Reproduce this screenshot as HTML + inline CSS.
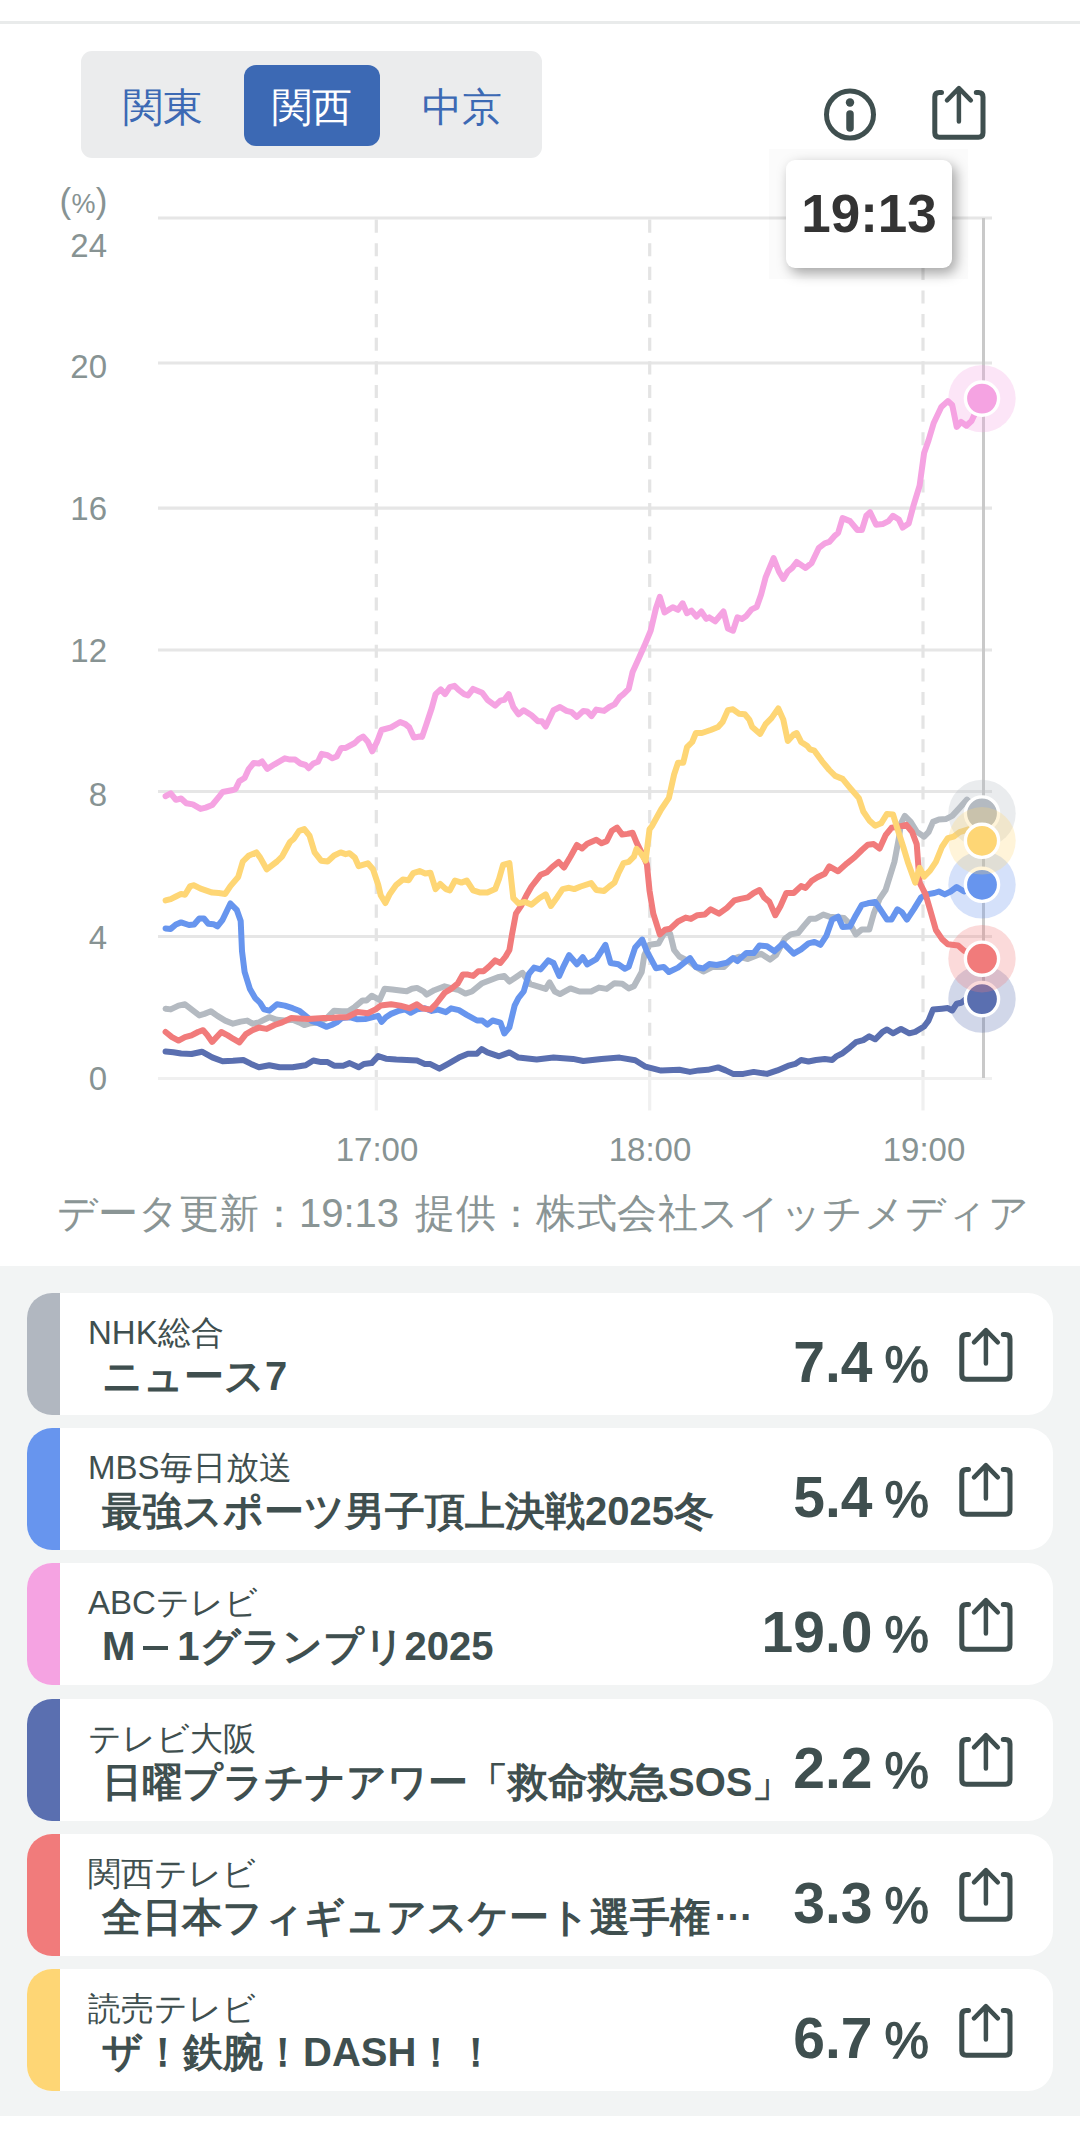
<!DOCTYPE html>
<html lang="ja"><head><meta charset="utf-8"><title>chart</title>
<style>
*{margin:0;padding:0;box-sizing:border-box}
html,body{width:1080px;height:2136px;background:#fff;overflow:hidden}
body{position:relative;font-family:"Liberation Sans",sans-serif;color:#3f4f4f}
.topline{position:absolute;left:0;top:21px;width:1080px;height:3px;background:#e9ebeb}
.seg{position:absolute;left:81px;top:51px;width:461px;height:107px;border-radius:11px;background:#ebeced}
.seg div{position:absolute;top:14px;height:81px;line-height:85px;font-size:40px;color:#3c69b4;text-align:center;width:136px}
.seg .on{background:#3c69b4;color:#fff;border-radius:12px}
.chart{position:absolute;left:0;top:0}
.ax{font-family:"Liberation Sans",sans-serif;font-size:33px;fill:#879393}
.tipbg{position:absolute;left:769px;top:149px;width:199px;height:130px;background:rgba(0,0,0,0.014)}
.tip{position:absolute;left:786px;top:160px;width:166px;height:108px;background:#fff;border-radius:9px;box-shadow:4px 5px 13px rgba(0,0,0,0.36);font-weight:bold;font-size:53px;color:#333;text-align:center;line-height:108px}
.info{position:absolute;left:821px;top:85px}
.shtop{position:absolute;left:931px;top:85px;width:56px;height:56px}
.foot{position:absolute;left:57px;top:1186px;font-size:40px;color:#8a9595;white-space:nowrap;letter-spacing:0px}
.list{position:absolute;left:0;top:1266px;width:1080px;height:850px;background:#f2f4f4}
.card{position:absolute;left:27px;width:1026px;height:122px;background:#fff;border-radius:25px;overflow:hidden}
.bar{position:absolute;left:0;top:0;width:33px;height:122px}
.ch{position:absolute;left:61px;top:20px;font-size:33px;line-height:40px;color:#3f4f4f;white-space:nowrap}
.ti{position:absolute;left:75px;top:59px;font-size:40px;line-height:48px;font-weight:bold;color:#3f4f4f;white-space:nowrap}
.val{position:absolute;right:124px;top:34px;font-size:57px;line-height:70px;color:#3f4f4f;white-space:nowrap}
.val b{font-weight:bold}
.val .pc{font-size:50px;margin-left:12px;-webkit-text-stroke:1.3px #3f4f4f}
.dash{display:inline-block;width:25px;height:4.5px;background:#3f4f4f;vertical-align:10px;margin:0 9px 0 8px}
.sh{position:absolute;left:930.7px;top:33.7px;width:56px;height:56px}
</style></head><body>
<div class="topline"></div>
<div class="seg"><div style="left:13.5px">関東</div><div class="on" style="left:163px">関西</div><div style="left:313px">中京</div></div>
<div class="info"><svg width="58" height="60" viewBox="0 0 58 60"><circle cx="29" cy="29.5" r="23.5" fill="none" stroke="#3f4f4f" stroke-width="5"/><circle cx="29" cy="17.5" r="4.2" fill="#3f4f4f"/><line x1="29" y1="29" x2="29" y2="43" stroke="#3f4f4f" stroke-width="7.5" stroke-linecap="round"/></svg></div>
<div class="shtop"><svg width="56" height="56" viewBox="0 0 56 56"><path d="M10.5 7.5H8.3Q3.8 7.5 3.8 12V47.8Q3.8 52.3 8.3 52.3H47.5Q52 52.3 52 47.8V12Q52 7.5 47.5 7.5H45.3" fill="none" stroke="#3f4f4f" stroke-width="5" stroke-linecap="round" stroke-linejoin="round"/><path d="M27.9 36.5V3.2M16 15.3L27.9 3.2L39.8 15.3" fill="none" stroke="#3f4f4f" stroke-width="4.5" stroke-linecap="round" stroke-linejoin="round"/></svg></div>
<svg class="chart" width="1080" height="1266" viewBox="0 0 1080 1266">
<line x1="158" y1="218" x2="992" y2="218" stroke="#e6e6e6" stroke-width="3.2"/>
<line x1="158" y1="363" x2="992" y2="363" stroke="#e6e6e6" stroke-width="3.2"/>
<line x1="158" y1="508.2" x2="992" y2="508.2" stroke="#e6e6e6" stroke-width="3.2"/>
<line x1="158" y1="650" x2="992" y2="650" stroke="#e6e6e6" stroke-width="3.2"/>
<line x1="158" y1="791.5" x2="992" y2="791.5" stroke="#e6e6e6" stroke-width="3.2"/>
<line x1="158" y1="936.5" x2="992" y2="936.5" stroke="#e6e6e6" stroke-width="3.2"/>
<line x1="158" y1="1078.5" x2="992" y2="1078.5" stroke="#f0f0f0" stroke-width="3.2"/>
<line x1="376.3" y1="219.6" x2="376.3" y2="1077" stroke="#e4e4e4" stroke-width="3.2" stroke-dasharray="13.1 10.52"/>
<line x1="376.3" y1="1078" x2="376.3" y2="1110.5" stroke="#f0f0f0" stroke-width="3.2"/>
<line x1="649.7" y1="219.6" x2="649.7" y2="1077" stroke="#e4e4e4" stroke-width="3.2" stroke-dasharray="13.1 10.52"/>
<line x1="649.7" y1="1078" x2="649.7" y2="1110.5" stroke="#f0f0f0" stroke-width="3.2"/>
<line x1="923" y1="219.6" x2="923" y2="1077" stroke="#e4e4e4" stroke-width="3.2" stroke-dasharray="13.1 10.52"/>
<line x1="923" y1="1078" x2="923" y2="1110.5" stroke="#f0f0f0" stroke-width="3.2"/>
<line x1="983.5" y1="218" x2="983.5" y2="1078" stroke="#c9c9c9" stroke-width="3"/>
<text x="107.5" y="213" text-anchor="end" class="ax"><tspan style="font-size:35px">(</tspan><tspan style="font-size:27px" dx="0.3">%</tspan><tspan style="font-size:35px" dx="0.3">)</tspan></text>
<text x="107" y="257" text-anchor="end" class="ax">24</text>
<text x="107" y="378" text-anchor="end" class="ax">20</text>
<text x="107" y="520" text-anchor="end" class="ax">16</text>
<text x="107" y="662" text-anchor="end" class="ax">12</text>
<text x="107" y="806" text-anchor="end" class="ax">8</text>
<text x="107" y="948.5" text-anchor="end" class="ax">4</text>
<text x="107" y="1090" text-anchor="end" class="ax">0</text>
<text x="377" y="1161" text-anchor="middle" class="ax">17:00</text>
<text x="650" y="1161" text-anchor="middle" class="ax">18:00</text>
<text x="924" y="1161" text-anchor="middle" class="ax">19:00</text>
<path d="M165.6 1008.7L170.7 1009.4L178.5 1005.6L185.0 1004.3L191.5 1009.4L199.3 1015.4L204.4 1013.9L210.9 1011.3L217.4 1015.9L225.2 1020.6L233.0 1023.7L240.7 1021.6L247.2 1020.6L252.4 1023.7L258.9 1022.4L264.1 1019.8L269.3 1017.2L277.0 1019.8L284.8 1020.6L292.6 1019.8L299.1 1022.4L304.3 1025.0L310.7 1023.2L318.5 1022.4L326.3 1018.5L334.1 1010.7L341.9 1011.3L348.3 1011.3L354.8 1006.9L362.6 1000.4L366.5 1000.4L371.7 995.7L379.5 999.9L384.6 988.7L392.4 989.5L400.2 990.5L406.7 991.3L411.9 988.7L417.0 987.9L423.5 991.3L426.5 994.6L434.3 990.2L444.6 986.3L453.7 988.9L458.9 990.2L465.4 993.6L471.9 991.5L482.2 983.2L497.8 977.2L504.3 975.9L509.4 981.6L515.9 977.2L522.4 972.8L530.2 984.2L539.3 986.8L545.7 988.9L549.6 982.4L554.8 991.5L560.0 994.1L570.4 988.4L579.4 991.5L591.1 991.5L598.9 987.6L606.7 988.9L614.5 983.2L622.2 983.7L628.7 988.4L633.9 986.3L641.7 972.0L644.3 955.2L649.5 944.8L658.5 943.5L665.0 931.9L670.2 933.9L674.1 950.0L679.3 956.5L689.6 961.7L695.9 967.0L703.3 971.5L712.2 967.0L724.1 967.0L731.5 959.6L738.9 956.7L747.8 959.0L761.1 953.7L770.0 959.6L775.9 955.2L784.8 938.9L790.7 934.4L798.1 933.0L804.1 925.6L810.0 918.7L815.9 918.7L823.3 914.6L829.3 916.7L838.1 917.6L844.1 918.1L850.0 924.1L855.9 934.4L861.9 929.4L869.3 929.4L873.7 913.7L879.6 898.9L885.6 890.0L894.4 861.9L898.9 838.1L901.0 823.3L904.8 815.9L910.7 821.9L916.7 831.6L924.1 836.7L928.5 832.2L933.0 821.9L938.9 819.5L946.3 818.9L952.2 815.9L959.6 807.9L967.0 799.6L982.0 813.5" fill="none" stroke="#b4bac1" stroke-width="6" stroke-linejoin="round" stroke-linecap="round"/>
<path d="M165.6 928.4L170.7 928.9L175.9 924.5L181.1 922.4L188.9 925.0L194.1 924.5L199.3 918.5L203.9 918.5L208.3 923.7L213.5 924.2L217.4 926.3L222.6 919.8L230.4 903.5L236.9 910.2L240.7 921.1L242.0 951.1L244.6 971.9L249.8 988.7L255.0 997.8L260.2 1003.0L264.1 1009.4L269.3 1010.7L277.0 1004.3L284.8 1005.6L292.6 1008.2L299.1 1010.7L305.6 1015.9L312.0 1021.1L318.5 1023.2L326.3 1026.8L331.5 1025.0L336.7 1022.4L341.9 1018.0L349.6 1017.2L357.4 1019.3L365.2 1019.0L373.0 1017.2L378.2 1015.9L381.5 1021.9L385.9 1017.2L391.1 1013.9L398.9 1010.7L405.4 1009.4L410.6 1012.8L417.0 1009.4L424.8 1008.2L431.7 1010.9L438.1 1009.6L445.9 1012.2L451.1 1008.3L458.9 1010.2L466.7 1014.8L477.0 1020.5L482.2 1020.5L487.4 1024.7L492.6 1020.5L500.4 1022.6L504.3 1033.5L509.4 1027.3L514.6 1005.7L518.5 998.0L523.7 991.5L528.9 973.9L534.1 967.6L540.6 969.4L548.3 960.4L553.5 963.0L559.2 975.9L563.9 965.6L569.1 955.2L576.9 964.3L582.8 957.3L587.2 964.3L596.3 959.1L605.4 944.8L610.6 963.0L618.3 964.3L624.8 968.7L628.7 966.9L635.2 947.4L642.2 939.6L646.9 951.3L655.9 968.2L663.7 966.9L668.9 972.0L678.0 967.6L690.0 958.1L695.9 967.0L703.3 968.5L709.3 964.1L716.7 965.0L727.0 962.6L733.0 958.1L737.4 961.1L746.3 953.1L753.7 953.1L759.6 945.4L767.0 946.3L774.4 951.3L783.3 943.3L793.7 953.7L801.1 949.3L808.5 943.3L814.4 941.9L820.4 944.8L826.3 935.9L832.2 919.6L838.1 916.7L842.6 927.0L850.0 926.4L855.9 915.2L861.9 904.8L867.8 903.3L875.2 901.9L881.1 910.7L887.0 919.6L891.5 919.6L897.4 909.3L901.9 912.2L906.9 919.6L913.7 909.3L921.1 897.4L927.0 894.4L934.4 893.0L938.9 891.5L944.8 894.4L950.7 891.5L956.7 887.0L964.1 891.5L982.0 884.8" fill="none" stroke="#6795ee" stroke-width="6" stroke-linejoin="round" stroke-linecap="round"/>
<path d="M165.6 796.2L170.7 793.3L175.9 799.8L181.1 798.5L186.3 803.2L192.8 804.4L200.6 808.9L205.7 807.6L212.2 805.0L218.7 797.2L222.6 792.0L233.0 790.0L235.6 788.9L239.4 781.1L244.6 778.0L248.5 769.4L253.7 763.0L258.9 763.5L262.0 761.4L267.2 768.9L274.5 764.3L284.8 758.3L290.0 759.6L295.2 759.6L300.4 763.5L305.6 765.0L308.7 768.2L313.3 763.5L318.0 761.7L321.6 753.9L327.6 755.2L332.3 758.3L336.7 756.5L341.3 747.9L345.7 747.9L354.8 743.0L358.7 739.1L363.1 736.5L367.8 741.7L372.2 751.3L376.9 742.2L381.5 730.0L391.1 727.4L400.2 722.0L405.4 724.1L409.3 727.4L413.9 737.6L419.6 736.5L422.1 736.9L426.5 723.9L431.7 708.3L435.6 694.1L440.7 689.4L445.1 694.1L449.8 687.1L454.5 685.8L458.9 690.2L464.1 694.1L468.0 695.4L473.1 688.9L482.2 692.8L487.4 699.8L495.2 705.7L500.4 700.6L504.3 699.8L508.7 694.1L513.3 707.0L518.5 714.3L523.7 710.2L531.5 715.3L538.0 721.3L541.9 721.3L545.7 726.5L553.5 710.2L560.0 707.0L566.5 710.9L571.7 712.2L576.9 716.9L583.3 710.9L587.2 711.4L591.6 716.1L596.3 709.6L604.1 710.9L609.3 707.0L614.5 704.4L619.6 697.2L623.5 694.1L628.7 688.9L632.6 672.0L637.8 660.4L644.3 646.1L650.7 630.6L655.9 608.5L659.8 596.9L664.5 612.4L672.8 607.2L678.0 609.8L682.6 603.3L687.0 613.2L691.5 610.6L696.5 616.5L701.3 611.5L706.3 618.9L709.3 617.4L715.2 621.3L723.5 611.5L727.9 628.4L733.0 630.7L737.4 617.4L741.9 618.9L746.3 615.9L751.6 609.4L756.7 607.0L761.1 594.6L765.6 577.4L773.6 558.1L778.9 571.5L783.3 578.9L787.8 571.5L792.2 567.9L796.7 562.0L805.6 567.9L811.5 563.2L818.9 547.8L824.8 543.3L829.3 541.9L835.2 535.3L838.1 533.0L842.6 518.1L850.0 521.1L857.4 530.0L861.9 530.0L866.3 515.8L870.1 512.2L876.1 524.7L882.6 524.1L888.5 521.1L893.0 515.8L898.9 519.6L902.7 527.6L908.7 523.5L913.7 504.8L919.6 485.6L924.1 453.0L928.5 440.5L933.6 423.3L941.3 407.0L947.8 401.1L952.2 405.0L956.7 426.9L961.1 421.9L966.4 425.7L971.5 421.0L975.9 411.5L982.0 398.6" fill="none" stroke="#f5a3e2" stroke-width="6" stroke-linejoin="round" stroke-linecap="round"/>
<path d="M165.6 1051.4L173.3 1052.2L181.1 1053.5L191.5 1054.0L201.9 1051.7L212.2 1057.4L222.6 1061.3L233.0 1060.8L243.3 1060.0L251.1 1063.9L258.9 1067.3L269.3 1065.2L279.6 1067.3L292.6 1067.3L305.6 1065.2L313.3 1060.5L321.1 1062.1L327.6 1062.1L334.1 1065.7L343.2 1065.7L349.6 1063.1L358.7 1067.3L363.9 1063.9L371.7 1063.1L378.2 1056.1L385.9 1058.7L396.3 1059.5L406.7 1060.0L417.0 1060.5L424.8 1063.9L430.4 1064.1L439.4 1068.7L448.5 1063.6L458.9 1057.6L468.0 1053.7L477.0 1053.7L481.7 1049.0L487.4 1052.4L499.1 1056.3L509.4 1052.4L518.5 1057.6L536.7 1059.4L553.5 1057.6L573.0 1058.9L583.3 1061.0L601.5 1058.9L619.6 1057.6L635.2 1060.2L645.6 1066.7L661.1 1070.6L679.3 1069.8L690.0 1071.9L698.9 1070.4L707.8 1069.8L718.1 1067.4L725.6 1070.4L733.0 1073.9L743.3 1073.9L753.7 1071.9L767.0 1073.9L777.4 1070.4L787.8 1065.9L795.2 1063.9L801.1 1060.0L808.5 1061.5L815.9 1060.0L824.8 1059.1L832.2 1060.0L836.7 1056.1L842.6 1053.2L850.0 1047.3L855.9 1042.2L863.3 1040.1L869.3 1036.3L875.2 1039.3L882.6 1031.9L887.0 1029.5L893.0 1033.3L901.0 1028.9L909.3 1033.3L915.2 1031.9L924.1 1026.5L928.5 1020.6L933.0 1009.6L941.9 1008.7L947.8 1008.1L952.2 1010.5L956.7 1003.7L961.1 1002.8L965.6 999.3L982.0 999.1" fill="none" stroke="#5a6fb0" stroke-width="6" stroke-linejoin="round" stroke-linecap="round"/>
<path d="M165.6 1032.0L172.0 1037.2L178.5 1040.6L185.0 1037.2L191.5 1035.4L198.0 1032.0L203.1 1030.2L207.6 1035.4L212.2 1041.9L221.3 1032.0L227.8 1035.4L233.0 1038.7L239.4 1042.4L245.9 1034.1L252.4 1030.2L258.9 1027.6L266.7 1028.9L274.5 1025.0L282.2 1022.4L291.3 1018.0L299.1 1018.5L308.2 1019.0L315.9 1018.5L323.7 1018.0L331.5 1018.0L339.3 1017.2L347.0 1017.2L357.4 1012.0L367.8 1013.3L375.6 1009.4L380.7 1005.6L391.1 1004.3L400.2 1005.6L409.3 1008.2L417.0 1004.3L422.2 1008.2L430.4 1009.6L435.6 1004.5L444.6 992.8L451.1 988.9L457.6 983.7L462.8 974.6L468.0 974.6L473.1 975.9L478.3 971.3L483.5 971.3L488.7 966.9L495.2 960.4L500.4 963.0L505.6 956.5L509.4 950.0L512.0 934.4L515.9 913.7L521.1 905.9L526.3 895.6L531.5 886.5L540.6 874.8L547.0 872.2L552.2 867.0L558.7 861.9L563.9 867.6L570.4 856.7L576.9 845.0L582.0 848.4L587.2 843.7L596.3 839.8L601.5 843.2L606.7 841.1L611.9 830.7L617.0 827.6L622.2 834.6L627.4 833.9L632.6 832.8L636.5 842.4L643.0 855.4L646.9 864.4L649.5 890.4L653.3 913.7L659.8 934.4L665.0 929.8L670.2 928.7L678.0 921.5L685.7 917.6L690.9 918.9L697.4 915.2L704.8 914.6L710.7 909.3L719.0 913.7L727.0 907.8L734.4 900.4L740.4 898.9L747.8 897.4L753.7 893.0L759.6 890.0L764.1 897.4L769.4 901.9L775.3 915.2L780.4 906.3L786.3 893.0L793.7 893.0L801.1 886.1L805.6 887.9L811.5 881.1L817.4 877.3L824.8 873.7L829.3 866.3L838.1 871.3L847.0 863.3L854.4 857.4L861.9 850.0L867.8 844.7L873.7 844.1L879.6 848.5L885.6 835.2L891.5 827.8L897.4 826.9L906.3 824.8L912.2 832.2L916.7 844.1L919.6 882.6L925.6 894.4L930.0 909.3L935.9 930.0L941.9 938.9L947.8 944.2L958.1 945.4L964.1 950.7L982.0 958.7" fill="none" stroke="#f17b7b" stroke-width="6" stroke-linejoin="round" stroke-linecap="round"/>
<path d="M165.6 900.4L170.7 899.1L175.9 896.5L181.1 893.9L185.0 894.7L190.2 886.1L194.1 885.3L200.6 888.7L212.2 892.6L218.7 893.1L225.2 893.9L230.4 886.1L238.2 877.0L242.8 861.5L248.5 855.8L256.3 852.4L260.2 857.6L266.7 869.3L277.0 861.5L282.2 856.3L290.0 842.0L293.9 838.7L299.1 830.9L304.3 829.1L309.5 835.6L314.6 852.4L321.1 860.7L327.6 861.5L334.1 855.5L340.6 852.4L345.7 854.2L349.6 853.2L354.8 857.6L358.7 866.2L367.8 863.3L373.0 869.3L378.2 884.8L380.7 895.2L385.4 903.0L389.8 893.9L396.3 884.8L402.8 879.6L408.7 880.2L413.2 873.2L419.6 871.1L425.2 873.5L430.4 872.7L435.6 889.1L440.2 883.9L445.9 889.1L449.8 890.4L455.0 880.5L461.5 882.6L466.7 880.5L473.1 890.4L479.6 892.4L487.4 892.4L495.2 889.1L499.1 878.7L503.0 865.0L509.4 863.1L513.3 898.2L518.5 903.3L525.0 902.0L531.5 904.6L539.3 898.2L545.7 894.3L550.9 905.9L557.4 896.9L562.6 889.1L569.1 887.8L574.3 889.1L580.7 886.5L591.1 883.1L596.3 889.9L604.1 890.9L609.3 886.5L614.5 882.6L618.3 873.5L623.5 863.1L628.7 861.9L633.9 856.7L636.5 848.9L640.4 852.8L645.6 860.6L649.5 829.4L652.0 826.0L661.1 809.5L668.9 797.8L674.1 774.5L678.0 762.8L683.2 762.8L687.0 747.2L692.2 742.0L695.9 733.0L701.9 733.0L710.7 730.0L718.1 727.0L722.6 722.0L727.9 710.1L733.0 709.3L738.9 713.7L744.8 714.3L749.3 719.6L752.2 727.0L760.2 733.9L765.6 724.1L771.5 718.1L778.3 708.4L783.3 719.6L787.8 741.0L793.7 734.4L796.7 733.0L801.1 741.9L807.0 745.7L810.0 749.3L814.4 750.7L821.9 761.1L829.3 770.0L835.2 775.9L842.6 778.9L850.0 787.8L858.9 798.1L863.3 811.5L869.3 820.4L875.2 825.7L881.1 823.3L887.0 813.9L893.0 814.4L897.4 828.7L903.3 847.0L907.8 861.9L915.2 882.6L919.6 867.8L924.1 876.7L930.0 870.7L935.9 861.9L941.9 847.0L947.8 838.1L953.7 836.7L959.6 832.2L968.5 829.3L975.0 833.0L982.0 840.8" fill="none" stroke="#fed675" stroke-width="6" stroke-linejoin="round" stroke-linecap="round"/>
<circle cx="982" cy="813.5" r="33.7" fill="#b4bac1" fill-opacity="0.28"/>
<circle cx="982" cy="813.5" r="16.6" fill="#b4bac1" stroke="#fff" stroke-width="3.4"/>
<circle cx="982" cy="884.8" r="33.7" fill="#6795ee" fill-opacity="0.28"/>
<circle cx="982" cy="884.8" r="16.6" fill="#6795ee" stroke="#fff" stroke-width="3.4"/>
<circle cx="982" cy="398.6" r="33.7" fill="#f5a3e2" fill-opacity="0.28"/>
<circle cx="982" cy="398.6" r="16.6" fill="#f5a3e2" stroke="#fff" stroke-width="3.4"/>
<circle cx="982" cy="999.1" r="33.7" fill="#5a6fb0" fill-opacity="0.28"/>
<circle cx="982" cy="999.1" r="16.6" fill="#5a6fb0" stroke="#fff" stroke-width="3.4"/>
<circle cx="982" cy="958.7" r="33.7" fill="#f17b7b" fill-opacity="0.28"/>
<circle cx="982" cy="958.7" r="16.6" fill="#f17b7b" stroke="#fff" stroke-width="3.4"/>
<circle cx="982" cy="840.8" r="33.7" fill="#fed675" fill-opacity="0.28"/>
<circle cx="982" cy="840.8" r="16.6" fill="#fed675" stroke="#fff" stroke-width="3.4"/>
</svg>
<div class="tipbg"></div><div class="tip">19:13</div>
<div class="foot">データ更新：19:13<span style="margin-left:16px;letter-spacing:0.4px">提供：株式会社スイッチメディア</span></div>
<div class="list">
</div>
<div class="card" style="top:1293.0px"><div class="bar" style="background:#b1b7c0"></div>
<div class="ch">NHK総合</div><div class="ti">ニュース7</div>
<div class="val"><b>7.4</b><span class="pc">%</span></div>
<div class="sh"><svg width="56" height="56" viewBox="0 0 56 56"><path d="M10.5 7.5H8.3Q3.8 7.5 3.8 12V47.8Q3.8 52.3 8.3 52.3H47.5Q52 52.3 52 47.8V12Q52 7.5 47.5 7.5H45.3" fill="none" stroke="#3f4f4f" stroke-width="5" stroke-linecap="round" stroke-linejoin="round"/><path d="M27.9 36.5V3.2M16 15.3L27.9 3.2L39.8 15.3" fill="none" stroke="#3f4f4f" stroke-width="4.5" stroke-linecap="round" stroke-linejoin="round"/></svg></div></div>
<div class="card" style="top:1428.2px"><div class="bar" style="background:#6795ee"></div>
<div class="ch">MBS毎日放送</div><div class="ti">最強スポーツ男子頂上決戦2025冬</div>
<div class="val"><b>5.4</b><span class="pc">%</span></div>
<div class="sh"><svg width="56" height="56" viewBox="0 0 56 56"><path d="M10.5 7.5H8.3Q3.8 7.5 3.8 12V47.8Q3.8 52.3 8.3 52.3H47.5Q52 52.3 52 47.8V12Q52 7.5 47.5 7.5H45.3" fill="none" stroke="#3f4f4f" stroke-width="5" stroke-linecap="round" stroke-linejoin="round"/><path d="M27.9 36.5V3.2M16 15.3L27.9 3.2L39.8 15.3" fill="none" stroke="#3f4f4f" stroke-width="4.5" stroke-linecap="round" stroke-linejoin="round"/></svg></div></div>
<div class="card" style="top:1563.4px"><div class="bar" style="background:#f5a3e2"></div>
<div class="ch">ABCテレビ</div><div class="ti">M<span class="dash"></span>1グランプリ2025</div>
<div class="val"><b>19.0</b><span class="pc">%</span></div>
<div class="sh"><svg width="56" height="56" viewBox="0 0 56 56"><path d="M10.5 7.5H8.3Q3.8 7.5 3.8 12V47.8Q3.8 52.3 8.3 52.3H47.5Q52 52.3 52 47.8V12Q52 7.5 47.5 7.5H45.3" fill="none" stroke="#3f4f4f" stroke-width="5" stroke-linecap="round" stroke-linejoin="round"/><path d="M27.9 36.5V3.2M16 15.3L27.9 3.2L39.8 15.3" fill="none" stroke="#3f4f4f" stroke-width="4.5" stroke-linecap="round" stroke-linejoin="round"/></svg></div></div>
<div class="card" style="top:1698.6px"><div class="bar" style="background:#5a6fb0"></div>
<div class="ch">テレビ大阪</div><div class="ti">日曜プラチナアワー「救命救急SOS」</div>
<div class="val"><b>2.2</b><span class="pc">%</span></div>
<div class="sh"><svg width="56" height="56" viewBox="0 0 56 56"><path d="M10.5 7.5H8.3Q3.8 7.5 3.8 12V47.8Q3.8 52.3 8.3 52.3H47.5Q52 52.3 52 47.8V12Q52 7.5 47.5 7.5H45.3" fill="none" stroke="#3f4f4f" stroke-width="5" stroke-linecap="round" stroke-linejoin="round"/><path d="M27.9 36.5V3.2M16 15.3L27.9 3.2L39.8 15.3" fill="none" stroke="#3f4f4f" stroke-width="4.5" stroke-linecap="round" stroke-linejoin="round"/></svg></div></div>
<div class="card" style="top:1833.8px"><div class="bar" style="background:#f17b7b"></div>
<div class="ch">関西テレビ</div><div class="ti">全日本フィギュアスケート選手権<span style="position:relative;top:-11px;margin-left:3px">…</span></div>
<div class="val"><b>3.3</b><span class="pc">%</span></div>
<div class="sh"><svg width="56" height="56" viewBox="0 0 56 56"><path d="M10.5 7.5H8.3Q3.8 7.5 3.8 12V47.8Q3.8 52.3 8.3 52.3H47.5Q52 52.3 52 47.8V12Q52 7.5 47.5 7.5H45.3" fill="none" stroke="#3f4f4f" stroke-width="5" stroke-linecap="round" stroke-linejoin="round"/><path d="M27.9 36.5V3.2M16 15.3L27.9 3.2L39.8 15.3" fill="none" stroke="#3f4f4f" stroke-width="4.5" stroke-linecap="round" stroke-linejoin="round"/></svg></div></div>
<div class="card" style="top:1969.0px"><div class="bar" style="background:#fed675"></div>
<div class="ch">読売テレビ</div><div class="ti">ザ！鉄腕！DASH！！</div>
<div class="val"><b>6.7</b><span class="pc">%</span></div>
<div class="sh"><svg width="56" height="56" viewBox="0 0 56 56"><path d="M10.5 7.5H8.3Q3.8 7.5 3.8 12V47.8Q3.8 52.3 8.3 52.3H47.5Q52 52.3 52 47.8V12Q52 7.5 47.5 7.5H45.3" fill="none" stroke="#3f4f4f" stroke-width="5" stroke-linecap="round" stroke-linejoin="round"/><path d="M27.9 36.5V3.2M16 15.3L27.9 3.2L39.8 15.3" fill="none" stroke="#3f4f4f" stroke-width="4.5" stroke-linecap="round" stroke-linejoin="round"/></svg></div></div>
</body></html>
